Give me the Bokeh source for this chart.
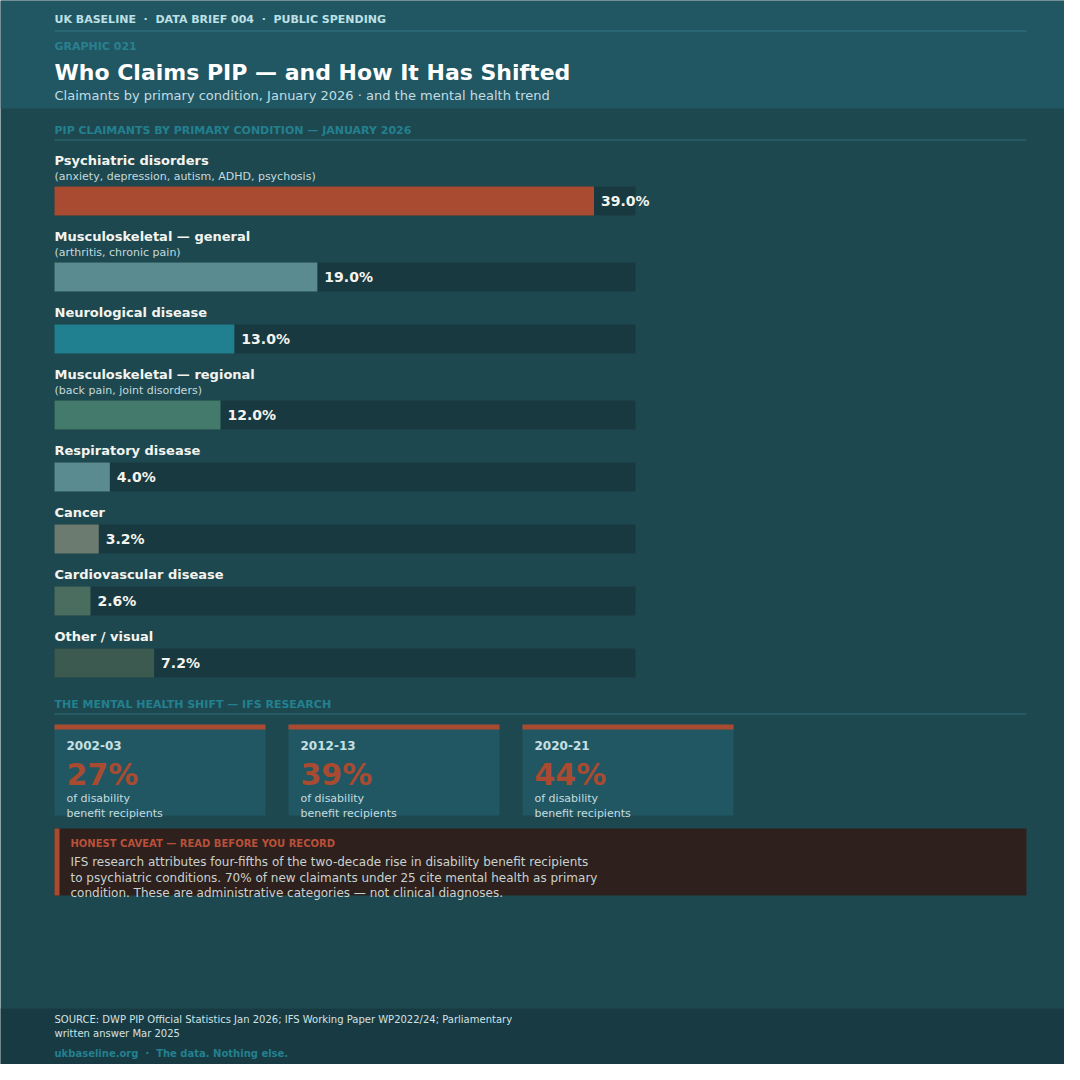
from bokeh.core.properties import value
from bokeh.embed import file_html
from bokeh.models import Range1d
from bokeh.plotting import figure
from bokeh.resources import INLINE

# ---- data ----
conditions = ["Psychiatric disorders", "Musculoskeletal \u2014 general", "Neurological disease",
              "Musculoskeletal \u2014 regional", "Respiratory disease", "Cancer",
              "Cardiovascular disease", "Other / visual"]
subtitles = ["(anxiety, depression, autism, ADHD, psychosis)", "(arthritis, chronic pain)", "",
             "(back pain, joint disorders)", "", "", "", ""]
shares = [39.0, 19.0, 13.0, 12.0, 4.0, 3.2, 2.6, 7.2]
bar_colors = ["#a84b30", "#5a8b90", "#21808f", "#437a6b", "#5a8b90", "#6b7b6f", "#4b6d5f", "#3c5a4f"]
scale_max = 42.0

trend_years = ["2002-03", "2012-13", "2020-21"]
trend_share = [27, 39, 44]

FONT = value("DejaVu Sans")
BG = "#1e4850"
HEAD = "#215763"
FOOT = "#183a42"
TRACK = "#18393f"
TEAL = "#23808f"
RUST = "#a84b30"
LIGHT = "#c2dde2"
WHITE = "#f4f4ef"
SEP = "\u00a0\u00a0\u00b7\u00a0\u00a0"

W = 1064
p = figure(width=W, height=W, x_range=Range1d(0, W), y_range=Range1d(W, 0),
           x_axis_type=None, y_axis_type=None, toolbar_location=None,
           output_backend="svg", min_border=0)
p.grid.visible = False
p.outline_line_color = None
p.background_fill_color = BG
p.border_fill_color = BG

# percentage scale for the bars: 0 at x=54, scale_max at x=635
track_l, track_r = 54, 635
k = scale_max / (track_r - track_l)
p.extra_x_ranges = {"pct": Range1d(-track_l * k, scale_max + (W - track_r) * k)}


def txt(x, y, s, size, color, bold=False, align="left", **kw):
    p.text(x=[x], y=[y], text=[s], text_font=FONT, text_font_size=f"{size}px",
           text_font_style="bold" if bold else "normal", text_color=color,
           text_align=align, text_baseline="middle", **kw)


def rule(y, x0=54, x1=1026, color="#2f6f7a"):
    p.segment(x0=[x0], y0=[y], x1=[x1], y1=[y], line_color=color, line_width=1)


# ---- header ----
p.quad(left=[0], right=[W], top=[0], bottom=[108], fill_color=HEAD, line_color=None)
txt(54, 19, "UK BASELINE" + SEP + "DATA BRIEF 004" + SEP + "PUBLIC SPENDING", 11, "#bde0e6", True)
rule(30.5, color="#337985")
txt(54, 45.5, "GRAPHIC 021", 11, "#2a808e", True)
txt(54, 72, "Who Claims PIP \u2014 and How It Has Shifted", 22, "#ffffff", True)
txt(54, 94.5, "Claimants by primary condition, January 2026 \u00b7 and the mental health trend", 13, LIGHT)

# ---- bar section ----
txt(54, 129.5, "PIP CLAIMANTS BY PRIMARY CONDITION \u2014 JANUARY 2026", 11, TEAL, True)
rule(139.5)

label_y, sub_y, bar_y = [], [], []
y = 160
for sub in subtitles:
    label_y.append(y)
    if sub:
        sub_y.append(y + 15.5)
        bar_y.append(y + 40.5)
        y += 76
    else:
        sub_y.append(None)
        bar_y.append(y + 26.5)
        y += 62

p.hbar(y=bar_y, left=0, right=scale_max, height=29, fill_color=TRACK, line_color=None,
       x_range_name="pct")
p.hbar(y=bar_y, left=0, right=shares, height=29, fill_color=bar_colors, line_color=None,
       x_range_name="pct")
p.text(x=shares, y=bar_y, text=[f"{v:.1f}%" for v in shares], x_offset=7, text_font=FONT,
       text_font_size="14px", text_font_style="bold", text_color=WHITE, text_baseline="middle",
       x_range_name="pct")
p.text(x=[54] * len(conditions), y=label_y, text=conditions, text_font=FONT, text_font_size="13px",
       text_font_style="bold", text_color=WHITE, text_baseline="middle")
subs = [(s, yy) for s, yy in zip(subtitles, sub_y) if s]
p.text(x=[54] * len(subs), y=[yy for _, yy in subs], text=[s for s, _ in subs], text_font=FONT,
       text_font_size="11px", text_color="#c4dadd", text_baseline="middle")

# ---- trend cards ----
txt(54, 703.5, "THE MENTAL HEALTH SHIFT \u2014 IFS RESEARCH", 11, TEAL, True)
rule(713.5)
for i, (yr, v) in enumerate(zip(trend_years, trend_share)):
    x0 = 54 + i * 234
    p.quad(left=[x0], right=[x0 + 211], top=[724], bottom=[815], fill_color=HEAD, line_color=None)
    p.quad(left=[x0], right=[x0 + 211], top=[724], bottom=[729], fill_color=RUST, line_color=None)
    txt(x0 + 12, 744.5, yr, 12, "#c6e0e4", True)
    txt(x0 + 12, 774, f"{v}%", 30, RUST, True)
    txt(x0 + 12, 797.5, "of disability", 11, "#c6dcdf")
    txt(x0 + 12, 812.5, "benefit recipients", 11, "#c6dcdf")

# ---- caveat ----
p.quad(left=[54], right=[1026], top=[828], bottom=[895], fill_color="#2d201d", line_color=None)
p.quad(left=[54], right=[59], top=[828], bottom=[895], fill_color=RUST, line_color=None)
txt(70, 842.5, "HONEST CAVEAT \u2014 READ BEFORE YOU RECORD", 10, "#b9503a", True)
caveat = ["IFS research attributes four-fifths of the two-decade rise in disability benefit recipients",
          "to psychiatric conditions. 70% of new claimants under 25 cite mental health as primary",
          "condition. These are administrative categories \u2014 not clinical diagnoses."]
for j, line in enumerate(caveat):
    txt(70, 861.5 + j * 15.5, line, 12, "#c9d2cf")

# ---- footer (raised to fit the 1064px canvas) ----
fy = 1008
p.quad(left=[0], right=[W], top=[fy], bottom=[W], fill_color=FOOT, line_color=None)
txt(54, fy + 10.5, "SOURCE: DWP PIP Official Statistics Jan 2026; IFS Working Paper WP2022/24; Parliamentary",
    10, "#d2e2e4")
txt(54, fy + 24.5, "written answer Mar 2025", 10, "#d2e2e4")
txt(54, fy + 44.5, "ukbaseline.org" + SEP + "The data. Nothing else.", 10, TEAL, True)

open("out.html", "w").write(file_html(p, INLINE))
